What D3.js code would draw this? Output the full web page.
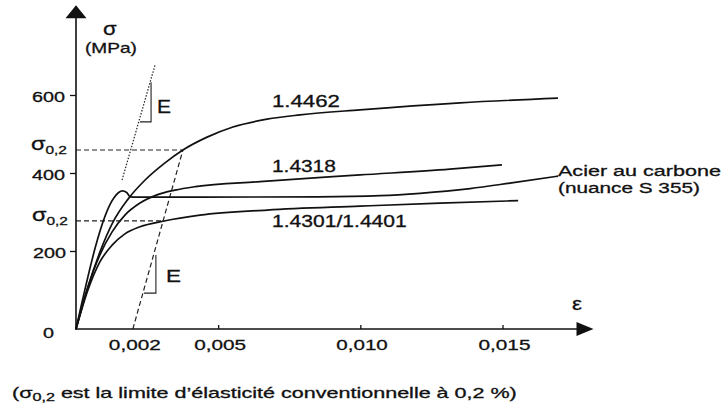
<!DOCTYPE html>
<html><head><meta charset="utf-8">
<script src="https://cdn.jsdelivr.net/npm/d3@7"></script>
<style>
body{margin:0;background:#fff}
svg{display:block}
text{font-family:"Liberation Sans",Arial,Helvetica,sans-serif;fill:#111;stroke:#111;stroke-width:0.3}
</style>
</head><body>
<svg id="c" width="722" height="416"></svg>
<script>
// ---------- data ----------
const seriesNames = ["1.4462", "1.4318", "1.4301/1.4401", "Acier au carbone"];

const strain4462 = [0, 0.00042, 0.00084, 0.0013, 0.00183, 0.00243, 0.00313, 0.00376, 0.00461, 0.00552, 0.00672, 0.00788, 0.00999, 0.01351, 0.01695];
const stress4462 = [0, 108, 197, 274, 333, 382, 426, 459, 492, 518, 538, 549, 562, 580, 592];

const strain4318 = [0, 0.00042, 0.00084, 0.00127, 0.00172, 0.00225, 0.00285, 0.00348, 0.0042, 0.00647, 0.00999, 0.01315, 0.01498];
const stress4318 = [0, 108, 190, 249, 292, 323, 344, 356, 365, 378, 395, 410, 421];

const strain4301 = [0, 0.00042, 0.00084, 0.00127, 0.00172, 0.00225, 0.0031, 0.00436, 0.00672, 0.00999, 0.0128, 0.01555];
const stress4301 = [0, 100, 172, 215, 244, 262, 277, 292, 305, 315, 323, 329];

const strainCarbon = [0, 0.00133, 0.0015, 0.00163, 0.00178, 0.00191, 0.00215, 0.00436, 0.0085, 0.0107, 0.0121, 0.01386, 0.01526, 0.01695];
const stressCarbon = [0, 336, 350, 354, 350, 339, 338, 338, 339, 342, 348, 360, 374, 392];

const yTicks = [0, 200, 400, 600];
const yTickLabels = ["0", "200", "400", "600"];
const xTicks = [0.002, 0.005, 0.010, 0.015];
const xTickLabels = ["0,002", "0,005", "0,010", "0,015"];

const sigma02 = [459, 277];          // proof stresses (MPa)
const sigma02Strain = [0.00376, 0.0031];
const offsetStrain = 0.002;
const eLineUpper = [[0.00162, 382], [0.00278, 677]];
const triUpper = [[0.00225, 531], [0.00264, 531], [0.00264, 633]];
const triLower = [[0.00239, 92], [0.00281, 92], [0.00281, 190]];
const xMax = 0.0182, yMax = 830;

// ---------- scales ----------
const x = d3.scaleLinear().domain([0, 0.015]).range([76, 502.5]);
const y = d3.scaleLinear().domain([0, 600]).range([329, 95]);

const svg = d3.select("#c");
svg.append("rect").attr("width", 722).attr("height", 416).attr("fill", "#fff");

function fit(sel, left, right) {
  const b = sel.node().getBBox();
  const s = (right - left) / b.width;
  sel.attr("transform", `translate(${left - s * b.x},0) scale(${s},1)`);
  return sel;
}
function label(txt, left, right, base, size) {
  const t = svg.append("text").attr("x", 0).attr("y", base)
    .attr("font-size", size).text(txt);
  return fit(t, left, right);
}
function sigmaLabel(left, right, base, size, subSize, dy) {
  const t = svg.append("text").attr("x", 0).attr("y", base).attr("font-size", size);
  t.append("tspan").text("σ");
  t.append("tspan").attr("font-size", subSize).attr("dy", dy).text("0,2");
  return fit(t, left, right);
}

// ---------- reference lines ----------
const gRef = svg.append("g").attr("fill", "none").attr("stroke", "#222");
sigma02.forEach((s, i) => {
  gRef.append("line")
    .attr("x1", x(0)).attr("x2", x(sigma02Strain[i]))
    .attr("y1", y(s)).attr("y2", y(s))
    .attr("stroke-width", 1.2).attr("stroke-dasharray", "5,3");
});
gRef.append("line")
  .attr("x1", x(offsetStrain)).attr("y1", y(0))
  .attr("x2", x(sigma02Strain[0])).attr("y2", y(sigma02[0]))
  .attr("stroke-width", 1.2).attr("stroke-dasharray", "5,3");
gRef.append("line")
  .attr("x1", x(eLineUpper[0][0])).attr("y1", y(eLineUpper[0][1]))
  .attr("x2", x(eLineUpper[1][0])).attr("y2", y(eLineUpper[1][1]))
  .attr("stroke-width", 1.2).attr("stroke-dasharray", "1.5,1.6");
const tri = d3.line().x(d => x(d[0])).y(d => y(d[1]));
gRef.append("path").attr("d", tri(triUpper)).attr("stroke-width", 1.1);
gRef.append("path").attr("d", tri(triLower)).attr("stroke-width", 1.1);

// ---------- curves ----------
const series = [
  [strain4462, stress4462],
  [strain4318, stress4318],
  [strain4301, stress4301],
  [strainCarbon, stressCarbon]
];
const line = d3.line().x(d => x(d[0])).y(d => y(d[1]))
  .curve(d3.curveMonotoneX);
svg.append("g").selectAll("path").data(series).join("path")
  .attr("d", s => line(s[0].map((e, i) => [e, s[1][i]])))
  .attr("fill", "none").attr("stroke", "#111").attr("stroke-width", 1.7)
  .attr("stroke-linejoin", "round");

// ---------- axes ----------
const gY = svg.append("g").attr("transform", `translate(${x(0)},0)`)
  .call(d3.axisLeft(y).tickValues(yTicks.filter(t => t > 0)).tickSize(6).tickFormat(""));
gY.select(".domain").remove();
gY.selectAll("line").attr("stroke", "#111").attr("stroke-width", 1.3);

const gX = svg.append("g").attr("transform", `translate(0,${y(0)})`)
  .call(d3.axisTop(x).tickValues(xTicks.filter(t => t >= 0.005)).tickSize(4).tickFormat(""));
gX.select(".domain").remove();
gX.selectAll("line").attr("stroke", "#111").attr("stroke-width", 1.3);

svg.append("line").attr("x1", x(0)).attr("x2", x(0)).attr("y1", y(0) + 0.7).attr("y2", y(yMax) + 12)
  .attr("stroke", "#111").attr("stroke-width", 1.6);
svg.append("line").attr("x1", x(0) - 0.7).attr("x2", x(xMax) - 14).attr("y1", y(0)).attr("y2", y(0))
  .attr("stroke", "#111").attr("stroke-width", 1.6);
svg.append("path").attr("fill", "#111")
  .attr("d", `M${x(0)},${y(yMax)} L${x(0) + 10.5},${y(yMax) + 13} L${x(0) - 10.5},${y(yMax) + 13}Z`);
svg.append("path").attr("fill", "#111")
  .attr("d", `M${x(xMax)},${y(0)} L${x(xMax) - 17},${y(0) - 7} L${x(xMax) - 17},${y(0) + 7}Z`);

// ---------- tick labels ----------
const yLabelSpans = { "600": [32, 65], "400": [32, 65], "200": [33, 66], "0": [43, 54] };
yTicks.forEach((t, i) => {
  const sp = yLabelSpans[yTickLabels[i]];
  const base = t === 0 ? y(0) + 9.5 : y(t) + 7.5;
  label(yTickLabels[i], sp[0], sp[1], base, 14.5);
});
xTicks.forEach((t, i) => {
  const c = x(t) + 2;
  label(xTickLabels[i], c - 26, c + 26, 350, 15.5);
});

// ---------- axis titles ----------
label("σ", 103, 117, 35, 19);
label("(MPa)", 85, 137, 53.5, 14.5);
label("ε", 572, 582, 310, 18);

// σ0,2 labels
sigmaLabel(31, 67, y(sigma02[0]) + 0.5, 17.5, 11.5, 4);
sigmaLabel(32, 68, y(sigma02[1]) + 0.5, 17.5, 11.5, 4);

// E labels
label("E", 157, 171, 112.7, 17.5);
label("E", 166, 181, 281.7, 16.5);

// series labels
label(seriesNames[0], 272, 340, 106.8, 16);
label(seriesNames[1], 272, 336, 171.8, 16);
label(seriesNames[2], 272, 407, 227.3, 16);
label(seriesNames[3], 558, 721, 176.5, 15.5);
label("(nuance S 355)", 558, 700, 193, 15.5);

// caption
{
  const t = svg.append("text").attr("x", 0).attr("y", 398).attr("font-size", 14);
  t.append("tspan").text("(σ");
  t.append("tspan").attr("font-size", 10.5).attr("dy", 3).text("0,2");
  t.append("tspan").attr("dy", -3).text(" est la limite d’élasticité conventionnelle à 0,2 %)");
  fit(t, 12, 517);
}
</script>
</body></html>
